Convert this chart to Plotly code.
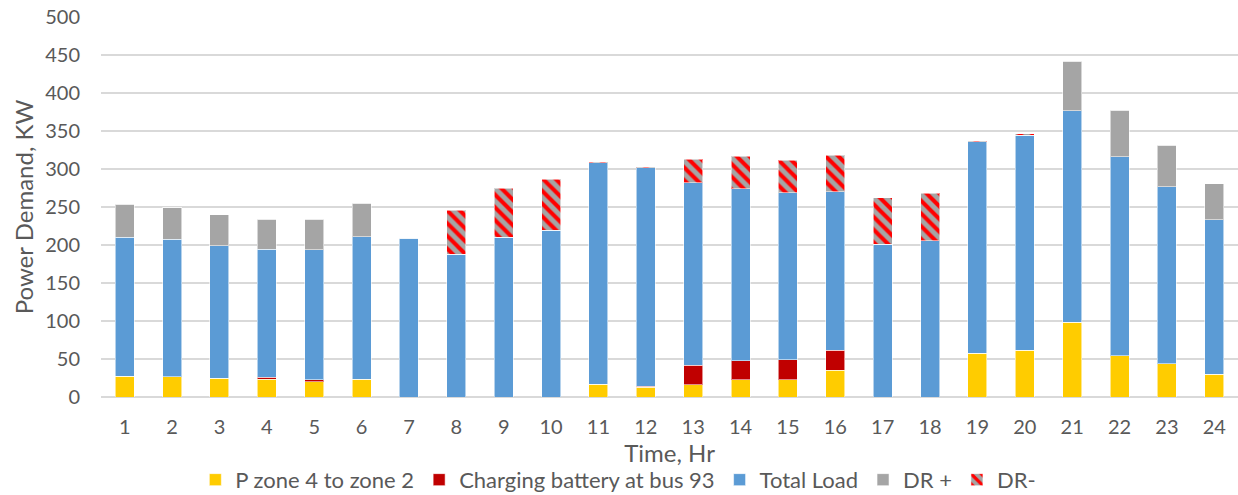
import plotly.graph_objects as go

hours = [str(h) for h in range(1, 25)]
p_zone = [27, 26.5, 25, 23.3, 20, 23.3, 0, 0, 0, 0, 17, 13, 15.8, 22.4, 22.8, 35.5, 0, 0, 57.5, 61.8, 98.3, 54.4, 43.8, 29.8]
battery = [0, 0, 0, 3, 2.8, 0, 0, 0, 0, 0, 0, 1, 25.9, 25.4, 25.9, 26.3, 0, 0, 0, 0, 0, 0, 0, 0]
total_load = [183, 181, 174, 168.4, 171, 187.7, 209, 188, 210.5, 219.7, 291.3, 287.8, 240.3, 225.9, 220.2, 208.2, 200.9, 205.7, 278.5, 282.9, 278.4, 261.8, 232.9, 203.5]
dr_plus = [43.5, 41.2, 40.5, 39.1, 40, 44, 0, 0, 0, 0, 0, 0, 0, 0, 0, 0, 0, 0, 0, 0, 65, 61, 54.5, 47.4]
dr_minus = [0, 0, 0, 0, 0, 0, 0, 57.6, 64.1, 67.1, 1, 1, 31, 43, 42.5, 48.4, 61.4, 62.3, 1, 1.5, 0, 0, 0, 0]

font_family = "Lato, Open Sans, sans-serif"
txt = "#595959"
edge = dict(color="rgba(255,255,255,0.55)", width=1)

fig = go.Figure()
fig.add_trace(go.Bar(x=hours, y=p_zone, name="P zone 4 to zone 2",
                     marker=dict(color="#ffcc00", line=edge)))
fig.add_trace(go.Bar(x=hours, y=battery, name="Charging battery at bus 93",
                     marker=dict(color="#c00000", line=edge)))
fig.add_trace(go.Bar(x=hours, y=total_load, name="Total Load",
                     marker=dict(color="#5b9bd5", line=edge)))
fig.add_trace(go.Bar(x=hours, y=dr_plus, name="DR +",
                     marker=dict(color="#a5a5a5", line=edge)))
fig.add_trace(go.Bar(x=hours, y=dr_minus, name="DR-",
                     marker=dict(color="#a5a5a5", line=edge,
                                 pattern=dict(shape="\\", bgcolor="#a5a5a5", fgcolor="#ff0000",
                                              size=9, solidity=0.45, fillmode="replace"))))

fig.update_layout(
    barmode="stack",
    bargap=0.6,
    width=1238, height=495,
    margin=dict(l=101, r=0, t=17, b=98, autoexpand=False),
    plot_bgcolor="white", paper_bgcolor="white",
    font=dict(family=font_family, size=20, color=txt),
    showlegend=True,
    legend=dict(orientation="h", x=0.455, xanchor="center", y=-0.218, yanchor="middle",
                font=dict(size=22, color=txt), itemwidth=30, traceorder="normal"),
    xaxis=dict(title=dict(text="Time, Hr", standoff=0, font=dict(size=24, color=txt)),
               tickfont=dict(size=20, color=txt), showline=False, showgrid=False,
               ticks="", ticklabelstandoff=16),
    yaxis=dict(title=dict(text="Power Demand, KW", standoff=4, font=dict(size=24, color=txt)),
               range=[0, 500], dtick=50, tickfont=dict(size=20, color=txt),
               showgrid=True, gridcolor="#d9d9d9", gridwidth=1.5,
               zeroline=True, zerolinecolor="#d9d9d9", zerolinewidth=1.5,
               ticklabelstandoff=20, ticklabeloverflow="allow"),
)

fig.write_html("out.html", config={"displayModeBar": False},
               post_script="document.body.style.margin='0px';document.body.style.overflow='hidden';")
